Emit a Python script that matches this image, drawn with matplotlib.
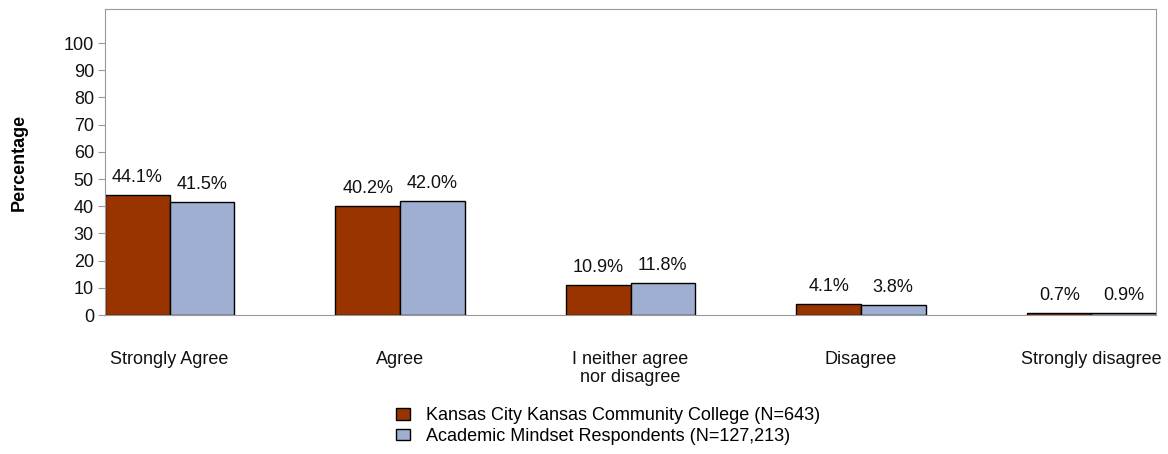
import numpy as np
import matplotlib.pyplot as plt
from matplotlib.patches import Patch

plt.rcParams['font.family'] = ['Liberation Sans', 'DejaVu Sans']

# Data
categories = ["Strongly Agree", "Agree", "I neither agree\nnor disagree", "Disagree", "Strongly disagree"]
kckcc = [44.1, 40.2, 10.9, 4.1, 0.7]
mindset = [41.5, 42.0, 11.8, 3.8, 0.9]
series_names = ["Kansas City Kansas Community College (N=643)",
                "Academic Mindset Respondents (N=127,213)"]
colors = ["#993300", "#9FAFD1"]

fig = plt.figure(figsize=(11.68, 4.54), dpi=100)
ax = fig.add_axes([105 / 1168, 1 - 315 / 454, 1051 / 1168, 306 / 454])

x = np.arange(len(categories))
w = 0.28
b1 = ax.bar(x - w / 2, kckcc, w, color=colors[0], edgecolor='black', linewidth=1)
b2 = ax.bar(x + w / 2, mindset, w, color=colors[1], edgecolor='black', linewidth=1)

for bars, vals in ((b1, kckcc), (b2, mindset)):
    for r, v in zip(bars, vals):
        ax.text(r.get_x() + r.get_width() / 2, v + 3.3, f"{v:.1f}%",
                ha='center', va='bottom', fontsize=13, color='#111111')

ax.set_xlim(-w, len(categories) - 1 + w)
ax.set_ylim(0, 112.5)
ax.set_yticks(np.arange(0, 101, 10))
ax.set_xticks(x)
ax.set_xticklabels(categories, fontsize=13, color='#111111', linespacing=1.1)
ax.tick_params(axis='x', length=0, pad=26)
ax.tick_params(axis='y', length=5, color='#999999', labelsize=13, labelcolor='#111111', pad=3)
for s in ax.spines.values():
    s.set_color('#999999')
ax.set_ylabel("Percentage", fontsize=13, fontweight='bold', labelpad=26)

handles = [Patch(facecolor=colors[0], edgecolor='black'),
           Patch(facecolor=colors[1], edgecolor='black')]
fig.legend(handles, series_names, loc='center', bbox_to_anchor=(608 / 1168, 1 - 426 / 454),
           frameon=False, fontsize=13, handlelength=0.8, handleheight=0.6,
           handletextpad=0.9, labelspacing=0.2)

fig.savefig("out.png", dpi=100)
